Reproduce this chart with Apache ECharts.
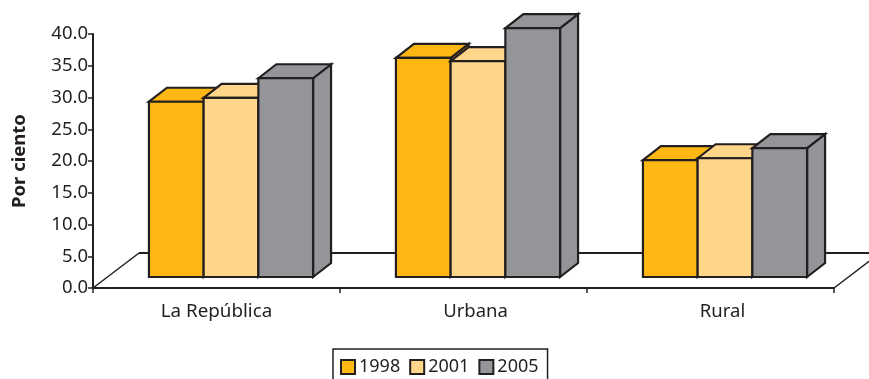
<!DOCTYPE html>
<html>
<head>
<meta charset="utf-8">
<style>html,body{margin:0;padding:0;background:#fff}#chart{width:869px;height:379px}</style>
<script src="https://cdn.jsdelivr.net/npm/echarts@6/dist/echarts.min.js"></script>
</head>
<body>
<div id="chart"></div>
<script>
// Percentages by area and survey year
const categories = ['La República', 'Urbana', 'Rural'];
const years = ['1998', '2001', '2005'];
const values1998 = [27.6, 34.5, 18.4];
const values2001 = [28.2, 34.0, 18.7];
const values2005 = [31.3, 39.2, 20.3];
const yearValues = [values1998, values2001, values2005];
const yearColors = ['#FDB813', '#FFD68A', '#939598'];
const ink = '#231F20';
const fontFamily = '"Noto Sans", sans-serif';

// Oblique projection of the box shapes
const floorDepth = [46, -35];
const barInset = [14.5, -11];
const barDepth = [18, -14];
const barFraction = 0.2215;

const faceStyle = (fill) => ({ fill: fill, stroke: ink, lineWidth: 2.2, lineJoin: 'miter' });

function renderBar(params, api) {
  const s = params.seriesIndex - 1;
  const cat = api.value(0);
  const base = api.coord([cat, 0]);
  const top = api.coord([cat, api.value(1)]);
  const w = api.size([1, 0])[0] * barFraction;
  const x0 = base[0] + barInset[0] + (s - 1.5) * w;
  const x1 = x0 + w;
  const yb = base[1] + barInset[1];
  const yt = top[1] + barInset[1];
  const dx = barDepth[0], dy = barDepth[1];
  const fill = yearColors[s];
  return {
    type: 'group',
    children: [
      { type: 'polygon', shape: { points: [[x1, yb], [x1 + dx, yb + dy], [x1 + dx, yt + dy], [x1, yt]] }, style: faceStyle(fill) },
      { type: 'polygon', shape: { points: [[x0, yt], [x0 + dx, yt + dy], [x1 + dx, yt + dy], [x1, yt]] }, style: faceStyle(fill) },
      { type: 'rect', shape: { x: x0, y: yt, width: w, height: yb - yt }, style: faceStyle(fill) }
    ]
  };
}

// Floor plane behind the bars: left and right edges plus the back edge
function renderFloor(params) {
  const g = params.coordSys;
  const y0 = g.y + g.height, xL = g.x, xR = g.x + g.width;
  const line = (a, b, w) => ({
    type: 'line',
    shape: { x1: a[0], y1: a[1], x2: b[0], y2: b[1] },
    style: { stroke: ink, lineWidth: w, fill: null }
  });
  const backY = y0 + floorDepth[1];
  const backX = xL + floorDepth[0];
  return {
    type: 'group',
    children: [
      line([xL, y0], [backX, backY], 1.5),
      line([backX, backY], [xR + floorDepth[0], backY], 2.2),
      line([xR, y0], [xR + floorDepth[0], backY], 1.5)
    ]
  };
}

const barSeries = years.map((year, s) => ({
  type: 'custom',
  name: year,
  coordinateSystem: 'cartesian2d',
  clip: false,
  z: 3 + s,
  itemStyle: { color: yearColors[s], borderColor: ink, borderWidth: 2 },
  encode: { x: 0, y: 1 },
  data: categories.map((c, i) => [i, yearValues[s][i]]),
  renderItem: renderBar
}));

const chart = echarts.init(document.getElementById('chart'), null, { renderer: 'canvas' });
chart.setOption({
  animation: false,
  backgroundColor: '#fff',
  grid: { left: 93, top: 34, width: 741, height: 254, containLabel: false, outerBoundsMode: 'none' },
  legend: {
    data: years,
    left: 333,
    top: 349,
    orient: 'horizontal',
    icon: 'rect',
    itemWidth: 14,
    itemHeight: 14,
    itemGap: 9,
    padding: [9, 9, 12, 7],
    borderColor: ink,
    borderWidth: 1.5,
    textStyle: { color: ink, fontFamily: fontFamily, fontSize: 18, padding: [0, 0, 0, -1] },
    selectedMode: false
  },
  xAxis: {
    type: 'category',
    data: categories,
    boundaryGap: true,
    axisLine: { show: true, lineStyle: { color: ink, width: 2 } },
    axisTick: { show: true, alignWithLabel: false, length: 5, lineStyle: { color: ink, width: 1.5 } },
    axisLabel: {
      color: ink,
      fontFamily: fontFamily,
      fontSize: 18.5,
      margin: 14,
      interval: 0,
      // The two shorter names sit a little right of their group centre
      formatter: (name, i) => (i === 0 ? `{first|${name}}` : `{rest|${name}}`),
      rich: {
        first: { fontFamily: fontFamily, fontSize: 18.8, color: ink },
        rest: { fontFamily: fontFamily, fontSize: 18.5, color: ink, padding: [0, 0, 0, 24] }
      }
    },
    splitLine: { show: false }
  },
  yAxis: {
    type: 'value',
    min: 0,
    max: 40,
    interval: 5,
    name: 'Por ciento',
    nameLocation: 'middle',
    nameGap: 64,
    nameTextStyle: { color: ink, fontFamily: fontFamily, fontSize: 18.5, fontWeight: 'bold' },
    axisLine: { show: true, lineStyle: { color: ink, width: 2 } },
    axisTick: { show: true, length: 5, lineStyle: { color: ink, width: 1.5 } },
    axisLabel: { color: ink, fontFamily: fontFamily, fontSize: 18.5, margin: 5, formatter: (v) => v.toFixed(1) },
    splitLine: { show: false }
  },
  series: [
    {
      type: 'custom',
      name: 'floor',
      coordinateSystem: 'cartesian2d',
      clip: false,
      silent: true,
      z: 1,
      encode: { x: 0, y: 1 },
      data: [[0, 0]],
      renderItem: renderFloor
    }
  ].concat(barSeries)
});
</script>
</body>
</html>
